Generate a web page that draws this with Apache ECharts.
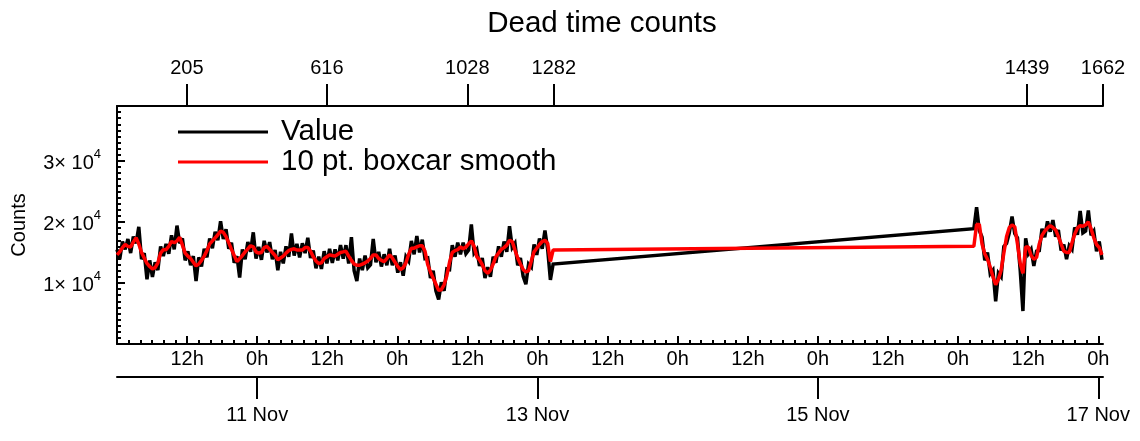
<!DOCTYPE html>
<html><head><meta charset="utf-8">
<script src="https://cdn.jsdelivr.net/npm/echarts@6/dist/echarts.min.js"></script>
<style>html,body{margin:0;padding:0;background:#fff}#c{width:1140px;height:441px}</style>
</head><body><div id="c"></div>
<script>
// ---- data ----
const SAMPLE_MINUTES = 3.5;                      // sampling cadence
const SEG1_START = Date.UTC(2019, 10, 10, 0, 0); // first sample (index 0)
const SEG2_START = Date.UTC(2019, 10, 16, 2, 42);// first sample after the gap (index 1283)
const SEG1_COUNT = 1283;
const LAST_INDEX = 1662;
const LIST_STEP = 8;                              // values listed every 8th sample

const valueSeg1 = [
15500,13900,16800,15500,17200,14900,17600,16500,19200,13900,
14900,10600,13700,11000,13400,12100,16000,14400,16400,14800,
17800,15500,19400,16500,17300,13700,15200,12900,14400,10300,
14200,12700,15600,14200,17300,15700,18400,17000,20100,17200,
18800,15600,16600,13300,14400,10900,15500,13900,16700,15100,
18300,14000,15900,13800,16900,15000,16700,13900,15400,12100,
15100,13200,16000,14300,18100,14500,16400,14200,16500,14900,
17400,14100,15300,12400,14300,12300,15200,13200,15600,13300,
15500,13700,16200,14000,16200,13200,17500,12000,10300,14000,
12100,14500,12500,13000,17200,13400,15100,12700,14700,12900,
15600,12900,14500,11700,13400,11200,14300,13600,16900,14700,
17700,15000,17100,14000,14100,10800,12000,8700,7300,10100,
8700,12300,12200,16200,14300,16600,14700,16600,14800,15400,
19600,14900,15500,12800,14100,10800,12600,11000,14300,13300,
16000,14300,16800,15100,19300,15800,16500,12900,14100,11100,
9800,13100,12600,16300,14600,17300,15600,18600,15500,10500,
13100];
const valueSeg2 = [
18900,22400,18600,17500,13700,15000,11500,12100,7000,11600,
11000,16000,16500,18200,20900,18100,17400,12100,5400,17300,
14800,15500,12800,15200,15300,18900,17500,20100,18400,20300,
17600,18700,15300,16300,13900,16100,15500,19100,17900,21800,
18200,18500,21900,17800,18500,15200,16800,13800];
const smoothSeg1 = [
14600,15100,15800,16300,16000,15900,16700,17400,16400,15000,
14100,13200,12700,12300,12500,13300,14900,15450,15450,16000,
16800,16600,16900,17500,16200,14900,14400,14000,13400,12800,
13100,13700,14400,15300,16400,16900,17400,17900,18500,18300,
17600,16600,15500,14500,13500,14000,14500,15100,15600,16100,
15900,15100,14900,15000,15800,16000,15500,15000,14500,13800,
14100,14400,14900,15300,15500,15600,15400,15400,15400,15800,
15800,15200,14300,13600,13200,13300,14000,14300,14600,14500,
14400,14700,15000,15100,15200,14400,13700,13100,12900,12900,
13100,13300,13600,14000,14600,14600,14000,13700,13500,14000,
14600,14100,13400,12700,12200,12500,13300,14700,15700,15700,
15900,16100,16100,15200,13000,11800,10800,9800,8800,8900,
9700,11200,13400,15000,15300,15450,15900,15600,15900,16400,
16900,16000,14300,13800,13000,12000,11600,12100,13100,14300,
14900,15500,15800,16200,17000,16800,15400,14100,13100,12200,
11800,12000,13600,15100,15700,16300,16800,17000,16500,13500,
15400];
const smoothSeg2 = [
16000,19600,19600,16400,14800,13900,12600,11000,9700,10600,
12100,14900,17600,19100,19500,19200,16400,13200,11600,15900,
15900,14500,13900,14200,16400,17800,18500,19000,19400,19100,
18700,17600,16400,15200,15000,15000,16600,18000,19000,19400,
19300,19500,20000,18900,17400,16300,15800,14600];

const topTickIndex = [205, 616, 1028, 1282, 1439, 1662];
const dateTickDays = ['2019-11-11', '2019-11-13', '2019-11-15', '2019-11-17'];
const yTickValues = [10000, 20000, 30000];
const seriesNames = ['Value', '10 pt. boxcar smooth'];

// ---- build ----
const MIN = 60000, HOUR = 3600000;
function sampleTime(i) {
  return i < SEG1_COUNT ? SEG1_START + i * SAMPLE_MINUTES * MIN
                        : SEG2_START + (i - SEG1_COUNT) * SAMPLE_MINUTES * MIN;
}
function build(s1, s2) {
  const out = [];
  s1.forEach((v, k) => out.push([sampleTime(k * LIST_STEP), v]));
  s2.forEach((v, j) => out.push([sampleTime(SEG1_COUNT + j * LIST_STEP), v]));
  return out;
}
const xMin = SEG1_START, xMax = sampleTime(LAST_INDEX);
const hourTicks = [], minorHourTicks = [];
for (let t = xMin + 12 * HOUR; t <= xMax; t += 12 * HOUR) hourTicks.push(t);
for (let t = xMin + 2 * HOUR; t <= xMax; t += 2 * HOUR) minorHourTicks.push(t);
const dateTicks = dateTickDays.map(d => Date.parse(d + 'T00:00:00Z'));
const topTicks = topTickIndex.map(sampleTime);
const topLabel = new Map(topTicks.map((t, i) => [t, String(topTickIndex[i])]));
const yMinor = []; for (let v = 1000; v <= 39000; v += 1000) yMinor.push(v);

const FONT = 'Liberation Sans, Arial, Helvetica, sans-serif';
const line = { color: '#000', width: 2 };
const baseX = { type: 'value', min: xMin, max: xMax, splitLine: { show: false } };

const chart = echarts.init(document.getElementById('c'), null, { renderer: 'canvas' });
chart.setOption({
  animation: false,
  backgroundColor: '#fff',
  title: { text: 'Dead time counts', left: 597, top: 4, textAlign: 'center',
    textStyle: { fontSize: 29.5, fontWeight: 'normal', color: '#000', fontFamily: FONT } },
  legend: {
    data: seriesNames, orient: 'vertical', left: 173, top: 112,
    itemWidth: 90, itemHeight: 3, icon: 'rect', itemGap: 0,
    textStyle: { fontSize: 29.5, lineHeight: 30, color: '#000', fontFamily: FONT, padding: [0, 0, 0, 8] }
  },
  grid: { left: 117, right: 37, top: 106, bottom: 97, containLabel: false },
  xAxis: [
    Object.assign({}, baseX, { position: 'bottom',
      axisLine: { show: true, lineStyle: line },
      axisTick: { show: true, inside: true, length: 8, lineStyle: line, customValues: hourTicks },
      axisLabel: { show: true, customValues: hourTicks, margin: 5, fontSize: 20, color: '#000', fontFamily: FONT,
        formatter: v => new Date(v).getUTCHours() + 'h' } }),
    Object.assign({}, baseX, { position: 'bottom',
      axisLine: { show: false },
      axisTick: { show: true, inside: true, length: 4, lineStyle: line, customValues: minorHourTicks },
      axisLabel: { show: false } }),
    Object.assign({}, baseX, { position: 'bottom', offset: 33,
      axisLine: { show: true, lineStyle: line },
      axisTick: { show: true, inside: false, length: 22, lineStyle: line, customValues: dateTicks },
      axisLabel: { show: true, customValues: dateTicks, margin: 28, fontSize: 20, color: '#000', fontFamily: FONT,
        formatter: v => new Date(v).getUTCDate() + ' Nov' } }),
    Object.assign({}, baseX, { position: 'top',
      axisLine: { show: true, lineStyle: line },
      axisTick: { show: true, inside: false, length: 22, lineStyle: line, customValues: topTicks },
      axisLabel: { show: true, customValues: topTicks, margin: 28, fontSize: 20, color: '#000', fontFamily: FONT,
        formatter: v => topLabel.get(v) || '' } })
  ],
  yAxis: [
    { type: 'value', min: 0, max: 39000, position: 'left', splitLine: { show: false },
      name: 'Counts', nameLocation: 'middle', nameGap: 88, nameRotate: 90,
      nameTextStyle: { fontSize: 20, color: '#000', fontFamily: FONT },
      axisLine: { show: true, lineStyle: line },
      axisTick: { show: true, inside: true, length: 8, lineStyle: line, customValues: yTickValues },
      axisLabel: { show: true, customValues: yTickValues, margin: 16,
        formatter: v => '{a|' + (v / 10000) + '× 10}{b|4}',
        rich: {
          a: { fontSize: 20, color: '#000', fontFamily: FONT, lineHeight: 26, verticalAlign: 'bottom' },
          b: { fontSize: 13, color: '#000', fontFamily: FONT, lineHeight: 26, verticalAlign: 'top' }
        } } },
    { type: 'value', min: 0, max: 39000, position: 'left', splitLine: { show: false },
      axisLine: { show: false },
      axisTick: { show: true, inside: true, length: 4, lineStyle: line, customValues: yMinor },
      axisLabel: { show: false } }
  ],
  series: [
    { name: seriesNames[0], type: 'line', data: build(valueSeg1, valueSeg2), showSymbol: false,
      color: '#000', lineStyle: { color: '#000', width: 3.5, join: 'miter', miterLimit: 3 }, xAxisIndex: 0, yAxisIndex: 0, z: 2 },
    { name: seriesNames[1], type: 'line', data: build(smoothSeg1, smoothSeg2), showSymbol: false,
      color: '#ff0000', lineStyle: { color: '#ff0000', width: 3.5 }, xAxisIndex: 0, yAxisIndex: 0, z: 3 }
  ]
});
</script></body></html>
